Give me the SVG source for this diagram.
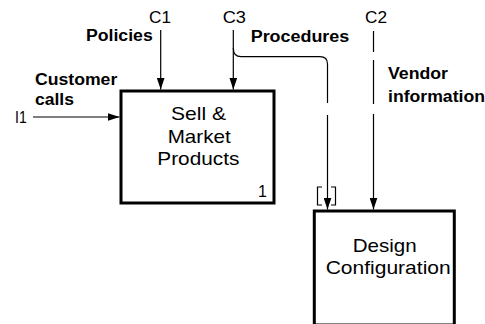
<svg xmlns="http://www.w3.org/2000/svg" width="485" height="324" viewBox="0 0 485 324">
<style>
.box{fill:#fff;stroke:#000;stroke-width:3}
.ln{fill:none;stroke:#000;stroke-width:1.2}
.lbl{font-family:"Liberation Sans",Arial,sans-serif;font-weight:bold;font-size:16px;fill:#000}
.ref{font-family:"Liberation Sans",Arial,sans-serif;font-size:17px;fill:#000}
.nt{font-family:"Liberation Sans",Arial,sans-serif;font-size:19px;fill:#000}
.num{font-family:"Liberation Sans",Arial,sans-serif;font-size:16px;fill:#000}
</style>
<defs>
<marker id="ah" markerUnits="userSpaceOnUse" markerWidth="12" markerHeight="8" refX="12" refY="4" orient="auto">
<path d="M0,0 L12,4 L0,8 z" fill="#000"/>
</marker>
</defs>
<rect width="485" height="324" fill="#fff"/>
<g id="node-sell">
<rect class="box" x="121" y="91" width="153" height="112"/>
<text class="nt" x="171" y="120" textLength="55" lengthAdjust="spacingAndGlyphs">Sell &amp;</text>
<text class="nt" x="167.7" y="143" textLength="63" lengthAdjust="spacingAndGlyphs">Market</text>
<text class="nt" x="157.3" y="165" textLength="82" lengthAdjust="spacingAndGlyphs">Products</text>
<text class="num" x="258" y="196.5">1</text>
</g>
<g id="node-design">
<rect class="box" x="314.3" y="211" width="140" height="114"/>
<text class="nt" x="352.7" y="251.7" textLength="64" lengthAdjust="spacingAndGlyphs">Design</text>
<text class="nt" x="325.7" y="274" textLength="125" lengthAdjust="spacingAndGlyphs">Configuration</text>
</g>
<g id="connectors">
<line class="ln" x1="33" y1="117" x2="119.5" y2="117" marker-end="url(#ah)"/>
<line class="ln" x1="160.7" y1="30" x2="160.7" y2="89.5" marker-end="url(#ah)"/>
<line class="ln" x1="233.3" y1="30" x2="233.3" y2="89.5" marker-end="url(#ah)"/>
<path class="ln" d="M233.3,48 Q233.3,56.7 241,56.7 L320,56.7 Q327.5,56.7 327.5,64 L327.5,103"/>
<line class="ln" x1="327.5" y1="115" x2="327.5" y2="209.5" marker-end="url(#ah)"/>
<path class="ln" d="M322,187 L317.5,187 L317.5,205 L322,205 M331,187 L335.5,187 L335.5,205 L331,205"/>
<line class="ln" x1="373.5" y1="31" x2="373.5" y2="52"/>
<line class="ln" x1="373.5" y1="60" x2="373.5" y2="104"/>
<line class="ln" x1="373.5" y1="114" x2="373.5" y2="209.5" marker-end="url(#ah)"/>
</g>
<g id="labels">
<text class="ref" x="149" y="23" textLength="22" lengthAdjust="spacingAndGlyphs">C1</text>
<text class="ref" x="222.7" y="23" textLength="23.3" lengthAdjust="spacingAndGlyphs">C3</text>
<text class="ref" x="365" y="23" textLength="22" lengthAdjust="spacingAndGlyphs">C2</text>
<text class="ref" x="15" y="123" textLength="11.7" lengthAdjust="spacingAndGlyphs">I1</text>
<text class="lbl" x="86" y="41" textLength="66.7" lengthAdjust="spacingAndGlyphs">Policies</text>
<text class="lbl" x="35" y="85" textLength="82.3" lengthAdjust="spacingAndGlyphs">Customer</text>
<text class="lbl" x="35" y="105" textLength="39" lengthAdjust="spacingAndGlyphs">calls</text>
<text class="lbl" x="250.7" y="42" textLength="98.6" lengthAdjust="spacingAndGlyphs">Procedures</text>
<text class="lbl" x="388" y="79" textLength="60" lengthAdjust="spacingAndGlyphs">Vendor</text>
<text class="lbl" x="388" y="102" textLength="97" lengthAdjust="spacingAndGlyphs">information</text>
</g>
</svg>
